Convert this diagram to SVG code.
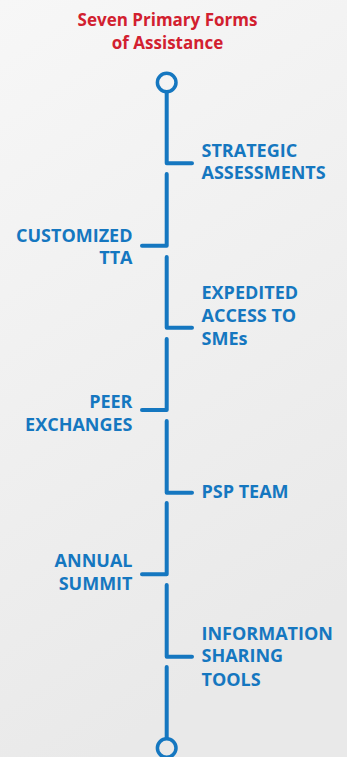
<svg xmlns="http://www.w3.org/2000/svg" width="347" height="757" viewBox="0 0 347 757">
<defs>
<linearGradient id="bg" x1="0" y1="0" x2="0.3" y2="1">
<stop offset="0" stop-color="#f7f7f7"/>
<stop offset="1" stop-color="#e9e9e9"/>
</linearGradient>
<style>
.t{font-family:"Open Sans","Liberation Sans",sans-serif;font-weight:bold;font-size:18px;fill:#1577c0}
.r{text-anchor:end}
.title{font-family:"Open Sans","Liberation Sans",sans-serif;font-weight:bold;font-size:17px;fill:#d2202f;text-anchor:middle}
.c{fill:none;stroke:#1577c0;stroke-width:4;stroke-linecap:round;stroke-linejoin:round}
.o{fill:none;stroke:#1577c0;stroke-width:3.5}
</style>
</defs>
<rect width="347" height="757" fill="url(#bg)"/>
<g id="title">
<text class="title" x="167.5" y="25.5">Seven Primary Forms</text>
<text class="title" x="167.5" y="48.5">of Assistance</text>
</g>
<g id="connectors">
<circle class="o" cx="166.7" cy="82.5" r="9.3"/>
<path class="c" d="M166.7 92 V163.3 H192"/>
<path class="c" d="M166.7 174 V245.7 H142"/>
<path class="c" d="M166.7 257 V327.7 H192"/>
<path class="c" d="M166.7 339 V410 H142"/>
<path class="c" d="M166.7 421 V492.7 H192"/>
<path class="c" d="M166.7 503 V574.3 H142"/>
<path class="c" d="M166.7 585 V656.7 H192"/>
<path class="c" d="M166.7 667 V738"/>
<circle class="o" cx="166.7" cy="748" r="9.3"/>
</g>
<g id="n1"><text class="t" x="201.5" y="156.5">STRATEGIC</text><text class="t" x="201.5" y="179">ASSESSMENTS</text></g>
<g id="n2"><text class="t r" x="132.5" y="241.7">CUSTOMIZED</text><text class="t r" x="132.5" y="264">TTA</text></g>
<g id="n3"><text class="t" x="201.5" y="299.3">EXPEDITED</text><text class="t" x="201.5" y="321.7">ACCESS TO</text><text class="t" x="201.5" y="345">SMEs</text></g>
<g id="n4"><text class="t r" x="132.5" y="408.3">PEER</text><text class="t r" x="132.5" y="430.7">EXCHANGES</text></g>
<g id="n5"><text class="t" x="201.5" y="498.3">PSP TEAM</text></g>
<g id="n6"><text class="t r" x="132.5" y="567.3">ANNUAL</text><text class="t r" x="132.5" y="590">SUMMIT</text></g>
<g id="n7"><text class="t" x="201.5" y="640">INFORMATION</text><text class="t" x="201.5" y="662.3">SHARING</text><text class="t" x="201.5" y="685.7">TOOLS</text></g>
</svg>
